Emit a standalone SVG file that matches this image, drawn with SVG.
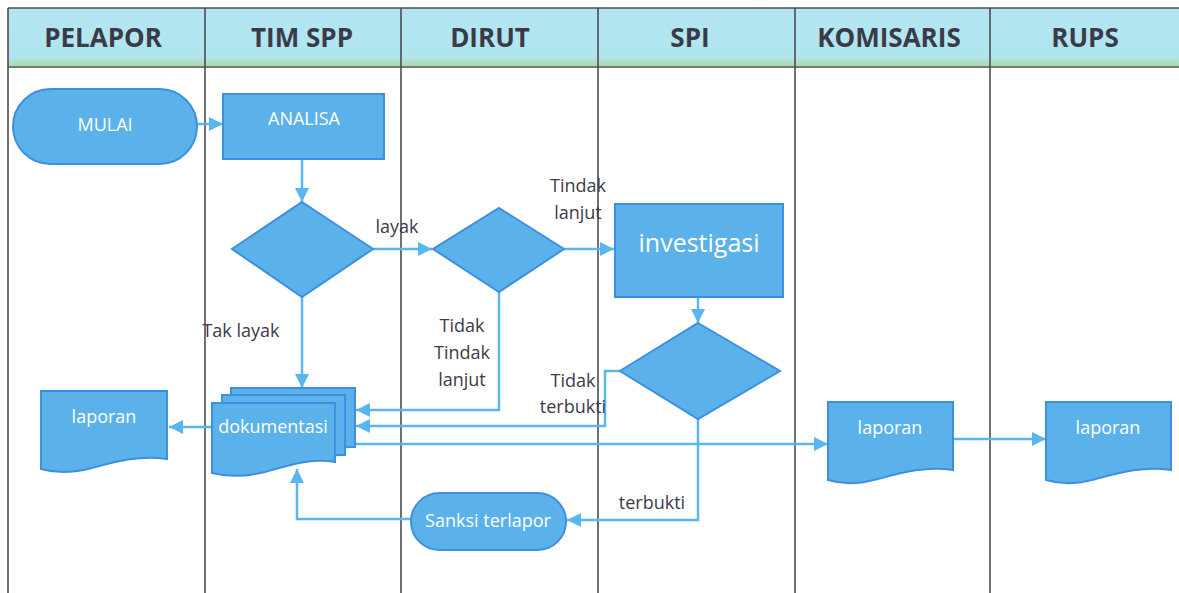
<svg xmlns="http://www.w3.org/2000/svg" width="1179" height="593" viewBox="0 0 1179 593">
<style>
.hdr{font-family:"Open Sans","Liberation Sans",sans-serif;font-weight:bold;font-size:26px;fill:#3b3a48;text-anchor:middle}
.lane{stroke:#4d4b52;stroke-width:1.6;fill:none}
.node{fill:#5bb2eb;stroke:#3d8fdf;stroke-width:2}
.nt{font-family:"Open Sans","Liberation Sans",sans-serif;font-size:18px;fill:#ffffff;text-anchor:middle}
.lbl{font-family:"Open Sans","Liberation Sans",sans-serif;font-size:18px;fill:#3c3b4a;text-anchor:middle}
.con{stroke:#5ab6ee;stroke-width:2.5;fill:none}
</style>
<defs>
<marker id="ah" viewBox="0 0 10 10" refX="10" refY="5" markerWidth="15" markerHeight="14" markerUnits="userSpaceOnUse" orient="auto">
<path d="M0 0 L10 5 L0 10 Z" fill="#5ab6ee"/>
</marker>
<linearGradient id="hg" x1="0" y1="0" x2="0" y2="1">
<stop offset="0" stop-color="#b3e6f1"/>
<stop offset="0.85" stop-color="#b0e5ee"/>
<stop offset="1" stop-color="#a9dca2"/>
</linearGradient>
</defs>
<rect width="1179" height="593" fill="#ffffff"/>
<g id="header">
<rect x="8" y="8" width="1171" height="58" fill="url(#hg)"/>
<line x1="8" y1="8" x2="1179" y2="8" class="lane"/>
<line x1="8" y1="67" x2="1179" y2="67" class="lane"/>
<text class="hdr" x="103" y="47">PELAPOR</text>
<text class="hdr" x="302" y="47">TIM SPP</text>
<text class="hdr" x="490" y="47">DIRUT</text>
<text class="hdr" x="690" y="47">SPI</text>
<text class="hdr" x="889" y="47">KOMISARIS</text>
<text class="hdr" x="1085" y="47">RUPS</text>
</g>
<g id="lanes">
<line class="lane" x1="8" y1="8" x2="8" y2="593"/>
<line class="lane" x1="205" y1="8" x2="205" y2="593"/>
<line class="lane" x1="401" y1="8" x2="401" y2="593"/>
<line class="lane" x1="598" y1="8" x2="598" y2="593"/>
<line class="lane" x1="795" y1="8" x2="795" y2="593"/>
<line class="lane" x1="990" y1="8" x2="990" y2="593"/>
</g>
<g id="connectors">
<line class="con" x1="197" y1="124" x2="223" y2="124" marker-end="url(#ah)"/>
<line class="con" x1="302" y1="159" x2="302" y2="202" marker-end="url(#ah)"/>
<line class="con" x1="373" y1="249" x2="432" y2="249" marker-end="url(#ah)"/>
<line class="con" x1="564" y1="249" x2="614" y2="249" marker-end="url(#ah)"/>
<line class="con" x1="698" y1="297" x2="698" y2="323" marker-end="url(#ah)"/>
<line class="con" x1="302" y1="297" x2="302" y2="388" marker-end="url(#ah)"/>
<polyline class="con" points="499,292 499,410 356,410" marker-end="url(#ah)"/>
<polyline class="con" points="620,371 605,371 605,426 356,426" marker-end="url(#ah)"/>
<line class="con" x1="212" y1="427" x2="169" y2="427" marker-end="url(#ah)"/>
<line class="con" x1="355" y1="444" x2="828" y2="444" marker-end="url(#ah)"/>
<line class="con" x1="953" y1="439" x2="1046" y2="439" marker-end="url(#ah)"/>
<polyline class="con" points="698,419 698,520 567,520" marker-end="url(#ah)"/>
<polyline class="con" points="411,519 297,519 297,469" marker-end="url(#ah)"/>
<text class="lbl" x="397" y="233">layak</text>
<text class="lbl" x="578" y="192">Tindak</text>
<text class="lbl" x="578" y="219">lanjut</text>
<text class="lbl" x="241" y="337">Tak layak</text>
<text class="lbl" x="462" y="332">Tidak</text>
<text class="lbl" x="462" y="359">Tindak</text>
<text class="lbl" x="462" y="386">lanjut</text>
<text class="lbl" x="573" y="387">Tidak</text>
<text class="lbl" x="573" y="413">terbukti</text>
<text class="lbl" x="652" y="509">terbukti</text>
</g>
<g id="mulai">
<rect class="node" x="13" y="89" width="184" height="75" rx="37.5"/>
<text class="nt" x="105" y="131">MULAI</text>
</g>
<g id="analisa">
<rect class="node" x="223" y="94" width="161" height="65"/>
<text class="nt" x="304" y="125">ANALISA</text>
</g>
<g id="decision-layak">
<polygon class="node" points="302,202 373,249 302,297 232,249"/>
</g>
<g id="decision-dirut">
<polygon class="node" points="499,208 564,249 499,292 433,249"/>
</g>
<g id="investigasi">
<rect class="node" x="615" y="204" width="168" height="93"/>
<text class="nt" x="699" y="252" style="font-size:25px">investigasi</text>
</g>
<g id="decision-terbukti">
<polygon class="node" points="698,323 780,371 698,419 620,371"/>
</g>
<g id="dokumentasi">
<path class="node" d="M231 388 H355 V447 C340 446 330 450 320 452 L240 452 L231 452 Z"/>
<path class="node" d="M222 395 H345 V455 C330 454 320 458 310 460 L231 460 L222 460 Z"/>
<path class="node" d="M212 403 H335 V462 C310 458 290 465 265 472 C245 477 228 477 212 473 Z"/>
<text class="nt" x="273" y="433">dokumentasi</text>
</g>
<g id="laporan-pelapor">
<path class="node" d="M41 391 H167 V459 C140 455 118 461 92 468 C70 474 55 473 41 469 Z"/>
<text class="nt" x="104" y="423">laporan</text>
</g>
<g id="laporan-komisaris">
<path class="node" d="M828 402 H953 V470 C926 466 904 472 878 479 C856 485 842 484 828 480 Z"/>
<text class="nt" x="890" y="434">laporan</text>
</g>
<g id="laporan-rups">
<path class="node" d="M1046 402 H1171 V470 C1144 466 1122 472 1096 479 C1074 485 1060 484 1046 480 Z"/>
<text class="nt" x="1108" y="434">laporan</text>
</g>
<g id="sanksi">
<rect class="node" x="411" y="493" width="155" height="57" rx="28.5"/>
<text class="nt" x="488" y="527">Sanksi terlapor</text>
</g>
</svg>
